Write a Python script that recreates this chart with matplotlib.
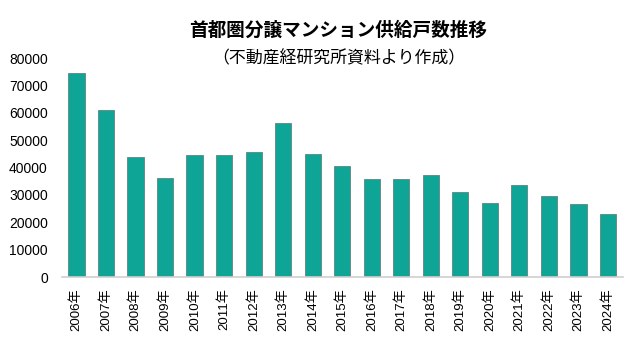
import matplotlib
matplotlib.use('Agg')
from matplotlib import pyplot as plt

plt.rcParams['font.family'] = ['Liberation Sans', 'Noto Sans CJK JP', 'DejaVu Sans']

years = ['2006年', '2007年', '2008年', '2009年', '2010年', '2011年', '2012年', '2013年', '2014年', '2015年',
         '2016年', '2017年', '2018年', '2019年', '2020年', '2021年', '2022年', '2023年', '2024年']
supply = [74463, 61021, 43733, 36376, 44535, 44499, 45602, 56478, 44913, 40449,
          35772, 35898, 37132, 31238, 27228, 33636, 29569, 26886, 23003]
yticks = [0, 10000, 20000, 30000, 40000, 50000, 60000, 70000, 80000]

fig = plt.figure(figsize=(6.4, 3.4), dpi=100)
ax = fig.add_axes([0.0964, 0.185, 0.8766, 0.644])

x = list(range(len(years)))
ax.bar(x, supply, width=0.55, color='#0ea596', edgecolor='#5f8580', linewidth=0.6)

ax.set_xlim(-0.5, len(years) - 0.5)
ax.set_ylim(0, 80000)
ax.set_yticks(yticks)
ax.set_yticklabels([str(v) for v in yticks], fontsize=10)
ax.set_xticks(x)
ax.set_xticklabels(years, rotation=90, fontsize=9.5)
ax.tick_params(axis='y', length=0, pad=10)
ax.tick_params(axis='x', length=0, pad=8)

for s in ['top', 'right', 'left']:
  ax.spines[s].set_visible(False)
ax.spines['bottom'].set_color('#d0d0d0')
ax.spines['bottom'].set_linewidth(1.2)

fig.text(0.529, 0.91, '首都圏分譲マンション供給戸数推移', ha='center', va='center',
         fontsize=13.4, fontweight='bold', family=['Noto Sans CJK JP'])
fig.text(0.529, 0.829, '（不動産経研究所資料より作成）', ha='center', va='center',
         fontsize=12.2, family=['Noto Sans CJK JP'])

fig.savefig('out.png', dpi=100)
